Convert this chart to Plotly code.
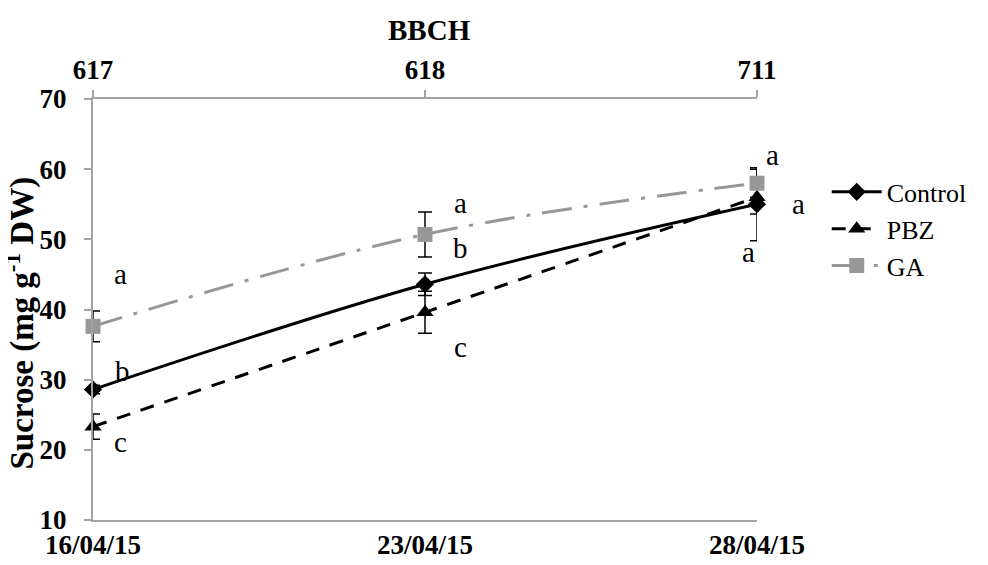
import plotly.graph_objects as go

# ---- data ----
dates = ["16/04/15", "23/04/15", "28/04/15"]
bbch = ["617", "618", "711"]
x_idx = [0, 1, 2]

control = [28.6, 43.6, 55.0]
control_err = [0.6, 1.6, 5.2]
pbz = [23.3, 39.6, 56.0]
pbz_err = [1.8, 3.0, 2.4]
ga = [37.6, 50.7, 58.0]
ga_err = [2.2, 3.2, 2.0]

control_letters = ["b", "b", "a"]
pbz_letters = ["c", "c", "a"]
ga_letters = ["a", "a", "a"]

y_title = "Sucrose (mg g<sup>-1</sup> DW)"
top_title = "BBCH"

GRAY_AX = "#a3a3a3"
GA_COL = "#979797"
FONT = "Liberation Serif, Times New Roman, serif"

fig = go.Figure()

def add_series(name, y, err, color, dash, symbol, size):
    fig.add_trace(go.Scatter(
        x=x_idx, y=y, name=name, mode="lines+markers",
        line=dict(color=color, width=3, dash=dash, shape="spline", smoothing=1),
        marker=dict(symbol=symbol, size=size, color=color),
        error_y=dict(type="data", array=err, visible=True, color="black",
                     thickness=1.5, width=7),
        cliponaxis=False,
    ))

add_series("Control", control, control_err, "black", "solid", "diamond", 14)
add_series("PBZ", pbz, pbz_err, "black", "14px,11px", "triangle-up", 15)
add_series("GA", ga, ga_err, GA_COL, "30px,12px,4px,12px", "square", 15)

# invisible trace for top axis
fig.add_trace(go.Scatter(x=x_idx, y=[None, None, None], xaxis="x2",
                         showlegend=False, hoverinfo="skip"))

# significance letters (pixel offsets from the point)
letter_sets = [
    (ga, ga_letters, [(27, 52), (35, 31), (15, 28)]),
    (control, control_letters, [(29, 18), (35, 36), (41, 0)]),
    (pbz, pbz_letters, [(27, -15), (35, -35), (-9, -55)]),
]
for yv, letters, offs in letter_sets:
    for i, (val, lt, (dx, dy)) in enumerate(zip(yv, letters, offs)):
        fig.add_annotation(x=x_idx[i], y=val, xref="x", yref="y", text=lt,
                           showarrow=False, xshift=dx, yshift=dy,
                           font=dict(family=FONT, size=29, color="black"))

# axis titles as annotations (precise placement)
fig.add_annotation(x=0, y=0.5, xref="paper", yref="paper", text=y_title,
                   textangle=-90, showarrow=False, xanchor="center", yanchor="middle",
                   xshift=-73, yshift=-14,
                   font=dict(family=FONT, size=33, color="black", weight="bold"))
fig.add_annotation(x=0.5, y=1, xref="paper", yref="paper", text=top_title,
                   showarrow=False, xanchor="center", yanchor="middle",
                   xshift=4, yshift=69,
                   font=dict(family=FONT, size=29, color="black", weight="bold"))

bold_tick = dict(family=FONT, size=27, color="black", weight="bold")

fig.update_layout(
    width=980, height=557,
    margin=dict(l=85, r=231, t=91, b=45),
    font=dict(family=FONT, color="black"),
    plot_bgcolor="white", paper_bgcolor="white",
    showlegend=True,
    legend=dict(x=1.105, y=0.835, xanchor="left", yanchor="top",
                font=dict(family=FONT, size=26, color="black"),
                bgcolor="rgba(0,0,0,0)", itemwidth=50),
    xaxis=dict(range=[0, 2], tickvals=x_idx, ticktext=dates, automargin=False,
               showline=True, linecolor=GRAY_AX, linewidth=2,
               ticks="", showgrid=False, zeroline=False,
               tickfont=bold_tick),
    xaxis2=dict(range=[0, 2], tickvals=x_idx, ticktext=bbch, automargin=False,
                overlaying="x", side="top", anchor="y",
                showline=True, linecolor=GRAY_AX, linewidth=2,
                ticks="outside", ticklen=7, tickcolor=GRAY_AX, tickwidth=2,
                showgrid=False, zeroline=False,
                tickfont=bold_tick),
    yaxis=dict(range=[10, 70], dtick=10, tick0=10, automargin=False,
               showline=True, linecolor=GRAY_AX, linewidth=2,
               ticks="outside", ticklen=7, tickcolor=GRAY_AX, tickwidth=2,
               ticklabelstandoff=12,
               showgrid=False, zeroline=False,
               tickfont=bold_tick),
)

fig.write_html("out.html")
